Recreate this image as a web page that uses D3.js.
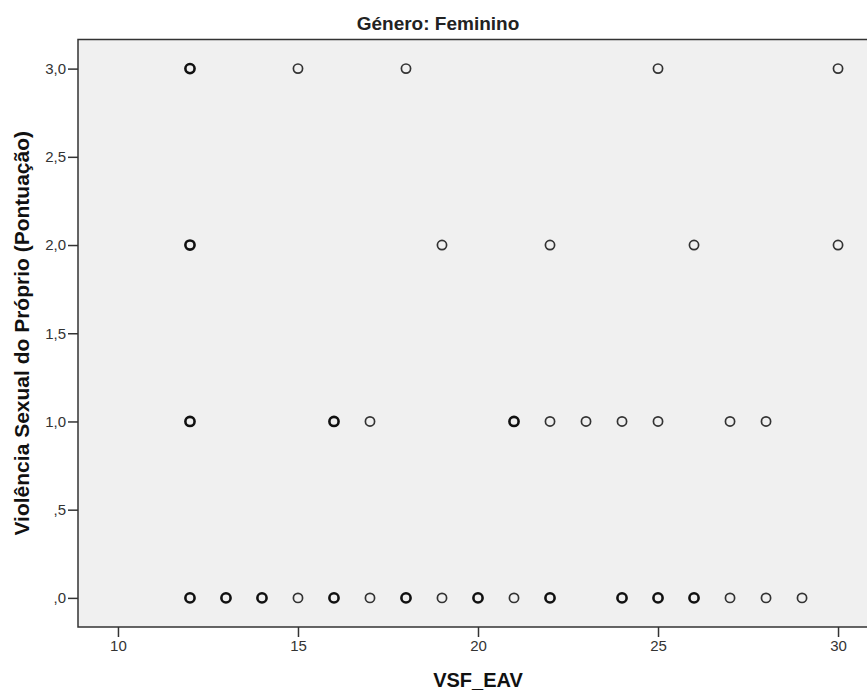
<!DOCTYPE html>
<html>
<head>
<meta charset="utf-8">
<script src="https://cdn.jsdelivr.net/npm/d3@7"></script>
<style>
  body { margin: 0; background: white; }
  svg { display: block; }
</style>
</head>
<body>
<div id="chart"></div>
<script>
// points: x, y, and how many cases sit on the same spot
const vsfEav = [12, 15, 18, 25, 30,
                12, 19, 22, 26, 30,
                12, 16, 17, 21, 22, 23, 24, 25, 27, 28,
                12, 13, 14, 15, 16, 17, 18, 19, 20, 21, 22, 24, 25, 26, 27, 28, 29];
const violencia = [3, 3, 3, 3, 3,
                   2, 2, 2, 2, 2,
                   1, 1, 1, 1, 1, 1, 1, 1, 1, 1,
                   0, 0, 0, 0, 0, 0, 0, 0, 0, 0, 0, 0, 0, 0, 0, 0, 0];
const casos = [2, 1, 1, 1, 1,
               2, 1, 1, 1, 1,
               3, 2, 1, 2, 1, 1, 1, 1, 1, 1,
               4, 3, 3, 1, 2, 1, 2, 1, 2, 1, 2, 2, 2, 2, 1, 1, 1];

const xTicks = [10, 15, 20, 25, 30];
const yTicks = [0, 0.5, 1, 1.5, 2, 2.5, 3];

const data = vsfEav.map((d, i) => ({ x: d, y: violencia[i], n: casos[i] }));

const w = 867, h = 690;
const m = { top: 39.5, right: -11, bottom: 63, left: 78 };
const font = "'Liberation Sans', Arial, sans-serif";

const svg = d3.select("#chart")
  .append("svg")
  .attr("width", w)
  .attr("height", h)
  .style("font-family", font);

const x = d3.scaleLinear()
  .domain([8.89, 31.11])
  .range([m.left, w - m.right]);

const y = d3.scaleLinear()
  .domain([-0.165, 3.165])
  .range([h - m.bottom, m.top]);

// panel background
svg.append("rect")
  .attr("x", m.left)
  .attr("y", m.top)
  .attr("width", x.range()[1] - m.left)
  .attr("height", y.range()[0] - m.top)
  .attr("fill", "#f0f0f0")
  .attr("stroke", "#333")
  .attr("stroke-width", 1.5);

// title
svg.append("text")
  .attr("x", 438)
  .attr("y", 30)
  .attr("text-anchor", "middle")
  .attr("font-size", 19)
  .attr("font-weight", "bold")
  .attr("fill", "#222")
  .text("Género: Feminino");

// axes
const fmtY = (d) => d3.format(".1f")(d).replace(/^0/, "").replace(".", ",");

const xAxis = svg.append("g")
  .attr("transform", `translate(0,${y.range()[0]})`)
  .call(d3.axisBottom(x).tickValues(xTicks).tickSize(10).tickPadding(3));

const yAxis = svg.append("g")
  .attr("transform", `translate(${m.left},0)`)
  .call(d3.axisLeft(y).tickValues(yTicks).tickFormat(fmtY).tickSize(10).tickPadding(2));

[xAxis, yAxis].forEach((g) => {
  g.select(".domain").remove();
  g.selectAll("line").attr("stroke", "#333").attr("stroke-width", 1.5);
  g.selectAll("text")
    .attr("font-size", 15)
    .attr("font-family", font)
    .attr("fill", "#333");
});

// axis titles
svg.append("text")
  .attr("x", (m.left + x.range()[1]) / 2)
  .attr("y", 687)
  .attr("text-anchor", "middle")
  .attr("font-size", 20)
  .attr("font-weight", "bold")
  .attr("fill", "#111")
  .text("VSF_EAV");

svg.append("text")
  .attr("transform", `translate(29,${(y.range()[0] + m.top) / 2})rotate(-90)`)
  .attr("text-anchor", "middle")
  .attr("font-size", 21)
  .attr("font-weight", "bold")
  .attr("fill", "#111")
  .text("Violência Sexual do Próprio (Pontuação)");

// the points
svg.append("g")
  .selectAll("circle")
  .data(data)
  .join("circle")
  .attr("cx", (d) => x(d.x))
  .attr("cy", (d) => y(d.y))
  .attr("r", 4.6)
  .attr("fill", "none")
  .attr("stroke", (d) => (d.n > 1 ? "#111" : "#333"))
  .attr("stroke-width", (d) => (d.n > 1 ? 2.6 : 1.7));
</script>
</body>
</html>
